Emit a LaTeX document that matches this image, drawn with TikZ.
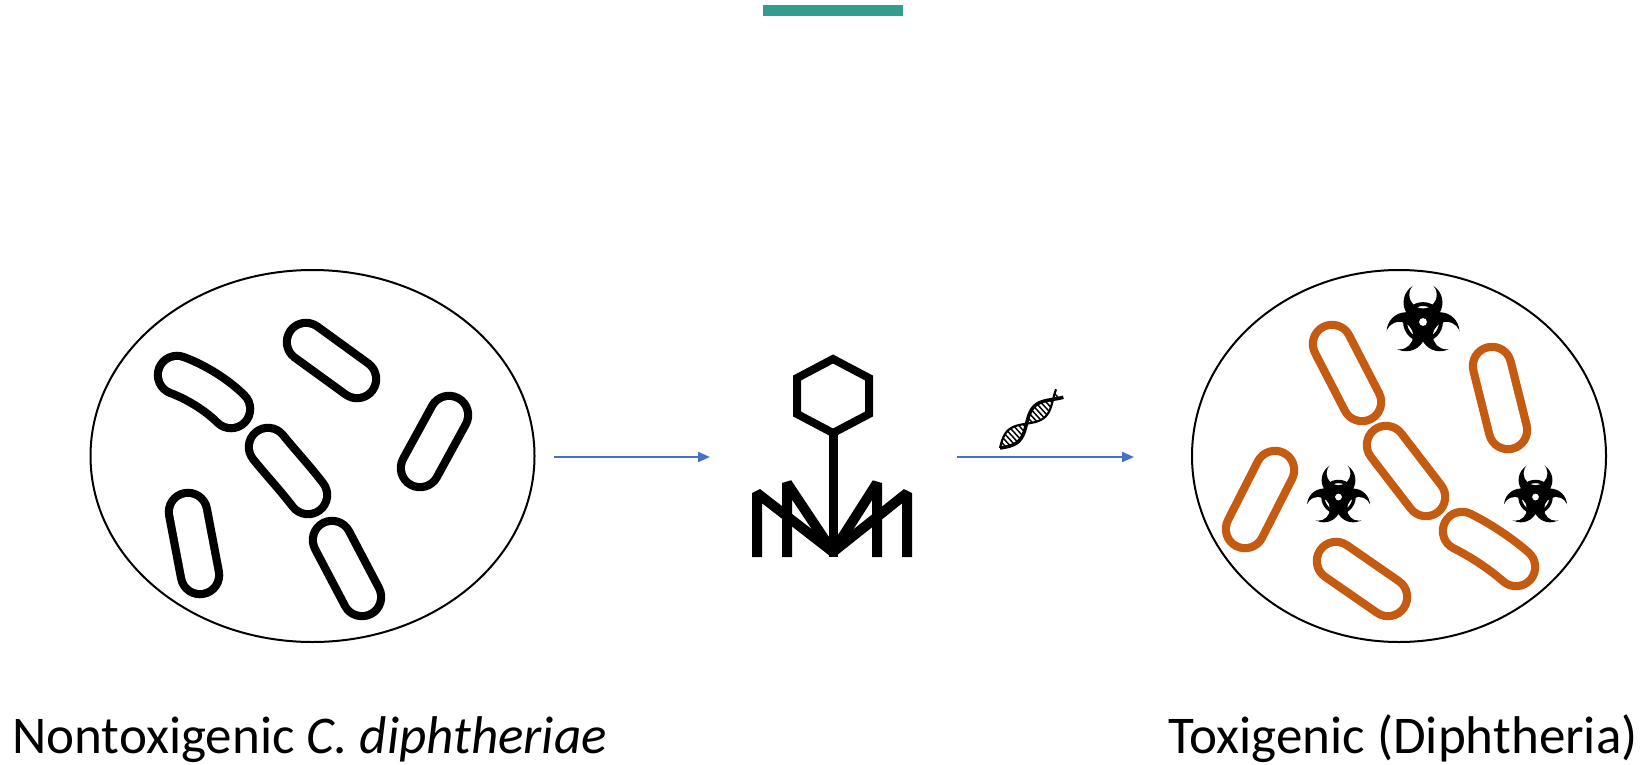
\documentclass[tikz,border=0pt]{standalone}
\usepackage{fontspec}
\setmainfont{Carlito}
\usetikzlibrary{arrows.meta}

\definecolor{barteal}{RGB}{50,156,142}
\definecolor{germorange}{RGB}{197,90,17}
\definecolor{flowblue}{RGB}{68,114,196}

% biohazard sign: x, y, size of one lobe unit
\newcommand{\hazard}[3]{%
  \begin{scope}[shift={(#1,#2)}, scale=#3]
    \foreach \a in {30,150,270} \fill (\a:0.5) circle (0.5);
    \foreach \a in {30,150,270} \fill[white] (\a:0.7) circle (0.35);
    \draw[line width=#3*0.075pt] (0,0) circle (0.46);
    \fill[white] (0,0) circle (0.1);
  \end{scope}}

\begin{document}
\begin{tikzpicture}[x=0.75pt,y=-0.75pt,
  dish/.style={line width=1.5pt},
  germ/.style={line width=6.2pt, double=white, double distance=22.5pt, line cap=round},
  flow/.style={flowblue, line width=1.6pt, -{Triangle[length=9pt,width=7.5pt]}},
  label/.style={inner sep=0pt, font=\fontsize{39.8}{48}\selectfont}]
\useasboundingbox (0,0) rectangle (1644,764);

\fill[barteal] (763,5) rectangle (903,16);

\draw[dish] (312.5,456) ellipse [x radius=222, y radius=186];
\draw[dish] (1399,456) ellipse [x radius=207, y radius=186];

\draw[germ, black] (306,342) -- (357,379);
\draw[germ, black] (177,375) .. controls (196,382) and (217,395) .. (231,409);
\draw[germ, black] (268,447) .. controls (280,462) and (295,478) .. (308,495);
\draw[germ, black] (420,468) -- (449,415);
\draw[germ, black] (188,512) -- (200,575);
\draw[germ, black] (332,540) -- (362,597);

\draw[germ, germorange] (1332,344) -- (1362,402);
\draw[germ, germorange] (1492,366) -- (1508,430);
\draw[germ, germorange] (1386,445) -- (1426,497);
\draw[germ, germorange] (1275,470) -- (1245,529);
\draw[germ, germorange] (1462,531) .. controls (1480,540) and (1500,553) .. (1516,567);
\draw[germ, germorange] (1336,561) -- (1388,597);

\hazard{1423}{322}{39}
\hazard{1338.5}{497}{33.8}
\hazard{1535.5}{497}{33.8}

\coordinate (a1) at (554,457);
\coordinate (a2) at (710,457);
\coordinate (b1) at (957,457);
\coordinate (b2) at (1134,457);
\draw[flow] (a1) -- (a2);
\draw[flow] (b1) -- (b2);

\draw[line width=6pt] (833,359) -- (869,378) -- (869,414) -- (833,433) -- (797,414) -- (797,378) -- cycle;
\draw[line width=6.75pt] (833,433) -- (833,557);
\draw[line width=7.5pt, line join=bevel] (757,557) -- (757,493) -- (833,552);
\draw[line width=7.5pt, line join=bevel] (787,557) -- (787,483) -- (833,552);
\draw[line width=7.5pt, line join=bevel] (877,557) -- (877,483) -- (833,552);
\draw[line width=7.5pt, line join=bevel] (907,557) -- (907,493) -- (833,552);

\draw[line width=2.6pt] plot[domain=0:81, samples=60, smooth] ({1000+0.737*\x+5.1*sin(5*\x)}, {448-0.676*\x+5.6*sin(5*\x)});
\draw[line width=1.6pt] plot[domain=0:81, samples=60, smooth] ({1000+0.737*\x-5.1*sin(5*\x)}, {448-0.676*\x-5.6*sin(5*\x)});
\foreach \t in {5,9,...,77}
  \draw[line width=1.1pt] ({1000+0.737*\t+5.1*sin(5*\t)},{448-0.676*\t+5.6*sin(5*\t)}) -- ({1000+0.737*\t-5.1*sin(5*\t)},{448-0.676*\t-5.6*sin(5*\t)});

\node[label, anchor=base west] (left) at (12,753) {Nontoxigenic \textit{C. diphtheriae}};
\node[label, anchor=base east] (right) at (1638,753) {Toxigenic (Diphtheria)};
\end{tikzpicture}
\end{document}
